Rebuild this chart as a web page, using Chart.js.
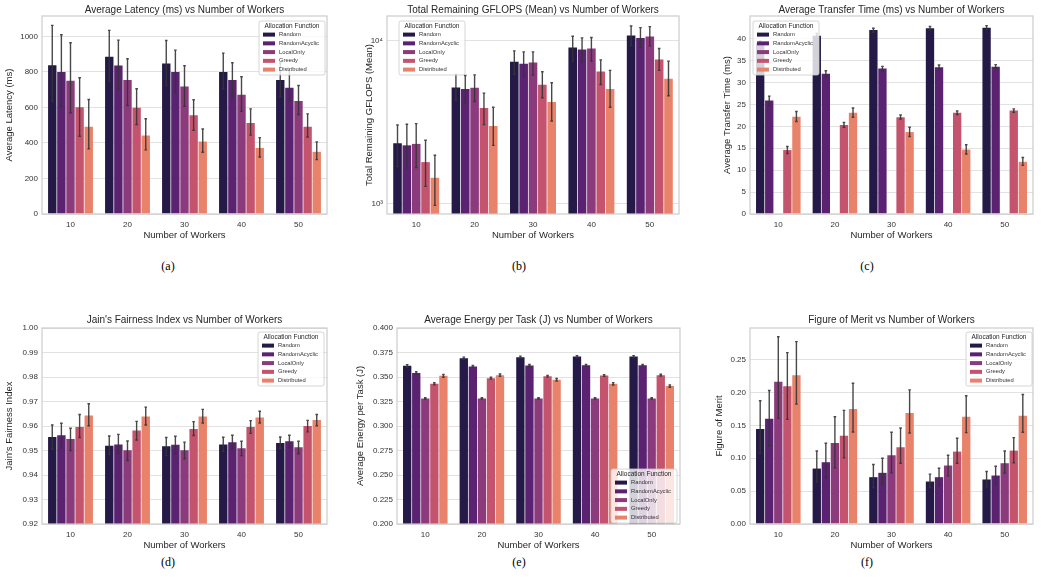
<!DOCTYPE html>
<html lang="en">
<head>
<meta charset="UTF-8">
<title>Allocation Functions vs Number of Workers</title>
<script src="https://cdn.jsdelivr.net/npm/chart.js"></script>
<style>
  body { margin: 0; background: #fff; width: 1041px; height: 585px; position: relative; overflow: hidden; }
  .panel { position: absolute; }
  .cap { position: absolute; font-family: "Liberation Serif", "Times New Roman", serif; font-size: 12px; font-weight: normal; line-height: 14px; color: #000; transform: translateX(-50%); }
</style>
</head>
<body>
<div class="panel" style="left:0;top:0;width:335px;height:245px"><canvas id="chartA"></canvas></div>
<div class="panel" style="left:345px;top:0;width:345px;height:245px"><canvas id="chartB"></canvas></div>
<div class="panel" style="left:700px;top:0;width:341px;height:245px"><canvas id="chartC"></canvas></div>
<div class="panel" style="left:0;top:300px;width:335px;height:255px"><canvas id="chartD"></canvas></div>
<div class="panel" style="left:345px;top:300px;width:345px;height:255px"><canvas id="chartE"></canvas></div>
<div class="panel" style="left:700px;top:300px;width:341px;height:255px"><canvas id="chartF"></canvas></div>

<div class="cap" style="left:168px;top:259px">(a)</div>
<div class="cap" style="left:519px;top:259px">(b)</div>
<div class="cap" style="left:867px;top:259px">(c)</div>
<div class="cap" style="left:168px;top:555px">(d)</div>
<div class="cap" style="left:519px;top:555px">(e)</div>
<div class="cap" style="left:867px;top:555px">(f)</div>

<script>
// categories
const workers = ['10', '20', '30', '40', '50'];
const algorithms = ['Random', 'RandomAcyclic', 'LocalOnly', 'Greedy', 'Distributed'];
const colors = ['#251a47', '#5b2272', '#8b3a7b', '#c4546e', '#e8826a'];

// rows = algorithms, columns = workers
const latencyMean = [
  [838, 885, 848, 799, 754],
  [799, 836, 799, 754, 711],
  [750, 754, 718, 671, 637],
  [601, 598, 556, 513, 492],
  [492, 442, 408, 372, 350]
];
const latencyLo = [
  [635, 748, 724, 705, 662],
  [605, 701, 682, 654, 639],
  [570, 611, 607, 579, 560],
  [438, 504, 472, 444, 434],
  [367, 361, 348, 321, 306]
];
const latencyHi = [
  [1062, 1034, 977, 906, 850],
  [1009, 979, 923, 852, 810],
  [964, 874, 835, 773, 724],
  [767, 705, 643, 592, 564],
  [645, 536, 479, 430, 406]
];
const latencyTicks = [0, 200, 400, 600, 800, 1000];

const gflopsMean = [
  [2348, 5163, 7413, 9063, 10730],
  [2280, 5046, 7200, 8812, 10390],
  [2327, 5139, 7342, 8937, 10580],
  [1799, 3863, 5358, 6473, 7656],
  [1442, 2998, 4197, 5046, 5838]
];
const gflopsLo = [
  [1692, 4314, 6224, 7480, 9321],
  [1652, 4157, 6083, 7413, 9107],
  [1668, 4236, 6138, 7480, 9277],
  [1277, 3057, 4466, 5381, 6566],
  [977, 2280, 3213, 3899, 4591]
];
const gflopsHi = [
  [3041, 6224, 8648, 10630, 12290],
  [3070, 6110, 8530, 10390, 12010],
  [3098, 6167, 8530, 10440, 12180],
  [2449, 4767, 6438, 7621, 8937],
  [1981, 3899, 5511, 6566, 7480]
];
const gflopsTicks = [1000, 10000];

const transferMean = [
  [39.0, 40.7, 42.0, 42.4, 42.5],
  [25.9, 32.0, 33.2, 33.5, 33.6],
  [0, 0, 0, 0, 0],
  [14.6, 20.3, 22.1, 23.1, 23.6],
  [22.2, 23.1, 18.7, 14.7, 11.9]
];
const transferLo = [
  [38.5, 40.2, 41.5, 42.0, 42.1],
  [24.7, 31.4, 32.6, 33.1, 33.2],
  [null, null, null, null, null],
  [13.8, 19.8, 21.7, 22.7, 23.2],
  [21.1, 22.1, 17.7, 13.7, 11.1]
];
const transferHi = [
  [39.5, 41.2, 42.4, 42.8, 43.0],
  [26.9, 32.7, 33.7, 34.0, 34.1],
  [null, null, null, null, null],
  [15.4, 20.9, 22.6, 23.5, 24.0],
  [23.4, 24.2, 19.8, 15.8, 12.9]
];
const transferTicks = [0, 5, 10, 15, 20, 25, 30, 35, 40];

const fairnessMean = [
  [0.9555, 0.9519, 0.9517, 0.9525, 0.9531],
  [0.9562, 0.9525, 0.9523, 0.9534, 0.9538],
  [0.9547, 0.9501, 0.9501, 0.9509, 0.9513],
  [0.9596, 0.9582, 0.9588, 0.9596, 0.9600],
  [0.9643, 0.9639, 0.9639, 0.9635, 0.9624]
];
const fairnessLo = [
  [0.9505, 0.9483, 0.9479, 0.9496, 0.9508],
  [0.9512, 0.9489, 0.9486, 0.9506, 0.9512],
  [0.9500, 0.9459, 0.9466, 0.9479, 0.9487],
  [0.9553, 0.9543, 0.9561, 0.9570, 0.9576],
  [0.9601, 0.9604, 0.9612, 0.9612, 0.9601]
];
const fairnessHi = [
  [0.9604, 0.9559, 0.9553, 0.9554, 0.9555],
  [0.9611, 0.9566, 0.9558, 0.9562, 0.9562],
  [0.9591, 0.9539, 0.9534, 0.9538, 0.9538],
  [0.9647, 0.9619, 0.9618, 0.9622, 0.9623],
  [0.9691, 0.9677, 0.9668, 0.9660, 0.9647]
];
const fairnessTicks = [0.92, 0.93, 0.94, 0.95, 0.96, 0.97, 0.98, 0.99, 1.00];

const energyMean = [
  [0.3614, 0.3692, 0.3702, 0.3708, 0.3708],
  [0.3542, 0.3607, 0.3617, 0.3620, 0.3620],
  [0.3281, 0.3281, 0.3281, 0.3281, 0.3281],
  [0.3431, 0.3488, 0.3508, 0.3515, 0.3519],
  [0.3512, 0.3519, 0.3471, 0.3431, 0.3407]
];
const energyLo = [
  [0.3602, 0.3681, 0.3691, 0.3698, 0.3698],
  [0.3531, 0.3597, 0.3607, 0.3611, 0.3611],
  [0.3274, 0.3274, 0.3274, 0.3274, 0.3274],
  [0.3420, 0.3478, 0.3499, 0.3506, 0.3510],
  [0.3498, 0.3507, 0.3458, 0.3419, 0.3395]
];
const energyHi = [
  [0.3626, 0.3703, 0.3713, 0.3718, 0.3718],
  [0.3553, 0.3617, 0.3627, 0.3629, 0.3629],
  [0.3288, 0.3288, 0.3288, 0.3288, 0.3288],
  [0.3442, 0.3498, 0.3517, 0.3524, 0.3528],
  [0.3526, 0.3531, 0.3484, 0.3443, 0.3419]
];
const energyTicks = [0.2, 0.225, 0.25, 0.275, 0.3, 0.325, 0.35, 0.375, 0.4];

const meritMean = [
  [0.1444, 0.0843, 0.0712, 0.0646, 0.0677],
  [0.1601, 0.0939, 0.0778, 0.0712, 0.0737],
  [0.2162, 0.1232, 0.1045, 0.0889, 0.0924],
  [0.2096, 0.1343, 0.1167, 0.1101, 0.1116],
  [0.2263, 0.1747, 0.1687, 0.1631, 0.1646]
];
const meritLo = [
  [0.1076, 0.0636, 0.0556, 0.0556, 0.0566],
  [0.1182, 0.0707, 0.0606, 0.0586, 0.0616],
  [0.1606, 0.0854, 0.0778, 0.0732, 0.0773],
  [0.1591, 0.1005, 0.0924, 0.0924, 0.0929],
  [0.1823, 0.1399, 0.1384, 0.1389, 0.1394]
];
const meritHi = [
  [0.1874, 0.1111, 0.0904, 0.0758, 0.0798],
  [0.2030, 0.1227, 0.1000, 0.0848, 0.0879],
  [0.2848, 0.1631, 0.1394, 0.1045, 0.1111],
  [0.2606, 0.1727, 0.1460, 0.1303, 0.1313],
  [0.2773, 0.2141, 0.2040, 0.1949, 0.1970]
];
const meritTicks = [0, 0.05, 0.1, 0.15, 0.2, 0.25];

const fontFamily = '"Liberation Sans", Arial, sans-serif';
const ink = '#262626';
Chart.defaults.font.family = fontFamily;

// title centred over the axes (not the whole canvas), like matplotlib
const axesTitle = {
  id: 'axesTitle',
  afterDraw(chart, args, o) {
    const a = chart.chartArea, ctx = chart.ctx;
    ctx.save();
    ctx.fillStyle = ink;
    ctx.font = '10px ' + fontFamily;
    ctx.textAlign = 'center';
    ctx.textBaseline = 'middle';
    ctx.fillText(o.text, (a.left + a.right) / 2, a.top - o.gap);
    ctx.restore();
  }
};

// light grey box round the plot area, like the seaborn spines
const frame = {
  id: 'frame',
  afterDatasetsDraw(chart) {
    const a = chart.chartArea, ctx = chart.ctx;
    ctx.save();
    ctx.strokeStyle = '#cccccc';
    ctx.lineWidth = 1.2;
    ctx.strokeRect(a.left, a.top, a.right - a.left, a.bottom - a.top);
    ctx.restore();
  }
};

// error bars from the lo / hi arrays, placed with the y scale
const errorBars = {
  id: 'errorBars',
  afterDatasetsDraw(chart) {
    const ctx = chart.ctx, ys = chart.scales.y;
    ctx.save();
    ctx.strokeStyle = 'rgba(52,52,52,0.9)';
    ctx.lineWidth = 1.4;
    chart.data.datasets.forEach((ds, i) => {
      chart.getDatasetMeta(i).data.forEach((bar, j) => {
        const lo = ds.lo[j], hi = ds.hi[j];
        if (lo == null || hi == null) return;
        const x = bar.x, y1 = ys.getPixelForValue(lo), y2 = ys.getPixelForValue(hi);
        ctx.beginPath();
        ctx.moveTo(x, y1); ctx.lineTo(x, y2);
        ctx.moveTo(x - 1.3, y1); ctx.lineTo(x + 1.3, y1);
        ctx.moveTo(x - 1.3, y2); ctx.lineTo(x + 1.3, y2);
        ctx.stroke();
      });
    });
    ctx.restore();
  }
};

// matplotlib style legend box inside the axes
const boxLegend = {
  id: 'boxLegend',
  afterDraw(chart, args, o) {
    const a = chart.chartArea, ctx = chart.ctx;
    const w = 66, h = 54;
    const x = o.side === 'left' ? a.left + o.dx : a.right - o.dx - w;
    const y = o.vert === 'bottom' ? a.bottom - o.dy - h : a.top + o.dy;
    ctx.save();
    ctx.fillStyle = 'rgba(255,255,255,0.8)';
    ctx.strokeStyle = '#cccccc';
    ctx.lineWidth = 0.8;
    ctx.beginPath();
    ctx.roundRect(x, y, w, h, 2);
    ctx.fill();
    ctx.stroke();
    ctx.fillStyle = ink;
    ctx.textBaseline = 'middle';
    ctx.textAlign = 'center';
    ctx.font = '6.5px ' + fontFamily;
    ctx.fillText('Allocation Function', x + w / 2, y + 4.8);
    ctx.textAlign = 'left';
    ctx.font = '5.8px ' + fontFamily;
    chart.data.datasets.forEach((ds, k) => {
      const ry = y + 13.6 + k * 8.75;
      ctx.fillStyle = ds.backgroundColor;
      ctx.fillRect(x + 4, ry - 2, 12, 4);
      ctx.fillStyle = '#333';
      ctx.fillText(ds.label, x + 20, ry);
    });
    ctx.restore();
  }
};

function barChart(id, c) {
  const datasets = algorithms.map((name, k) => ({
    label: name,
    data: c.mean[k],
    lo: c.lo[k],
    hi: c.hi[k],
    backgroundColor: colors[k],
    borderWidth: 0,
    categoryPercentage: 0.8,
    barPercentage: 0.92
  }));
  return new Chart(document.getElementById(id), {
    type: 'bar',
    data: { labels: workers, datasets: datasets },
    options: {
      responsive: true,
      maintainAspectRatio: false,
      animation: false,
      devicePixelRatio: 1,
      layout: { padding: { left: 0, right: c.padRight, top: c.padTop, bottom: 0 } },
      plugins: {
        legend: { display: false },
        tooltip: { enabled: false },
        title: { display: false },
        axesTitle: { text: c.title, gap: c.titleGap },
        boxLegend: c.legend
      },
      scales: {
        x: {
          grid: { display: false, drawTicks: false },
          border: { display: false },
          ticks: { color: '#333', font: { size: 8 }, padding: 6 },
          title: { display: true, text: 'Number of Workers', color: ink, font: { size: 9.5 }, padding: { top: 0, bottom: 4 } },
          afterFit: s => { s.height = 31; }
        },
        y: {
          type: c.type || 'linear',
          min: c.min,
          max: c.max,
          grid: { color: '#e2e2e2', lineWidth: 1, drawTicks: false },
          border: { display: false },
          ticks: { color: '#333', font: { size: 8 }, padding: 4, callback: c.fmt },
          afterBuildTicks: s => { s.ticks = c.ticks.map(v => ({ value: v })); },
          title: { display: true, text: c.yTitle, color: ink, font: { size: 9.5 }, padding: { top: c.yTitlePad, bottom: 0 } },
          afterFit: s => { s.width = c.yWidth; }
        }
      }
    },
    plugins: [frame, errorBars, boxLegend, axesTitle]
  });
}

const sup = { 1000: '10\u00b3', 10000: '10\u2074' };

barChart('chartA', {
  title: 'Average Latency (ms) vs Number of Workers', yTitle: 'Average Latency (ms)',
  mean: latencyMean, lo: latencyLo, hi: latencyHi, ticks: latencyTicks,
  min: 0, max: 1115, fmt: v => String(v),
  yWidth: 42, yTitlePad: 4, padRight: 8, padTop: 16, titleGap: 5.5,
  legend: { side: 'right', vert: 'top', dx: 2, dy: 5 }
});
barChart('chartB', {
  title: 'Total Remaining GFLOPS (Mean) vs Number of Workers', yTitle: 'Total Remaining GFLOPS (Mean)',
  mean: gflopsMean, lo: gflopsLo, hi: gflopsHi, ticks: gflopsTicks,
  type: 'logarithmic', min: 865, max: 14150, fmt: v => sup[v] || '',
  yWidth: 42, yTitlePad: 19, padRight: 11, padTop: 16, titleGap: 5.5,
  legend: { side: 'left', vert: 'top', dx: 12, dy: 5 }
});
barChart('chartC', {
  title: 'Average Transfer Time (ms) vs Number of Workers', yTitle: 'Average Transfer Time (ms)',
  mean: transferMean, lo: transferLo, hi: transferHi, ticks: transferTicks,
  min: 0, max: 45.2, fmt: v => String(v),
  yWidth: 50, yTitlePad: 22, padRight: 8, padTop: 16, titleGap: 5.5,
  legend: { side: 'left', vert: 'top', dx: 3, dy: 5 }
});
barChart('chartD', {
  title: "Jain's Fairness Index vs Number of Workers", yTitle: "Jain's Fairness Index",
  mean: fairnessMean, lo: fairnessLo, hi: fairnessHi, ticks: fairnessTicks,
  min: 0.92, max: 1.0, fmt: v => v.toFixed(2),
  yWidth: 42, yTitlePad: 4, padRight: 8, padTop: 28, titleGap: 7.5,
  legend: { side: 'right', vert: 'top', dx: 3, dy: 4 }
});
barChart('chartE', {
  title: 'Average Energy per Task (J) vs Number of Workers', yTitle: 'Average Energy per Task (J)',
  mean: energyMean, lo: energyLo, hi: energyHi, ticks: energyTicks,
  min: 0.2, max: 0.4, fmt: v => v.toFixed(3),
  yWidth: 52, yTitlePad: 10, padRight: 10, padTop: 28, titleGap: 7.5,
  legend: { side: 'right', vert: 'bottom', dx: 3, dy: 1 }
});
barChart('chartF', {
  title: 'Figure of Merit vs Number of Workers', yTitle: 'Figure of Merit',
  mean: meritMean, lo: meritLo, hi: meritHi, ticks: meritTicks,
  min: 0, max: 0.298, fmt: v => v.toFixed(2),
  yWidth: 50, yTitlePad: 14, padRight: 8, padTop: 28, titleGap: 7.5,
  legend: { side: 'right', vert: 'top', dx: 1, dy: 4 }
});
</script>
</body>
</html>
